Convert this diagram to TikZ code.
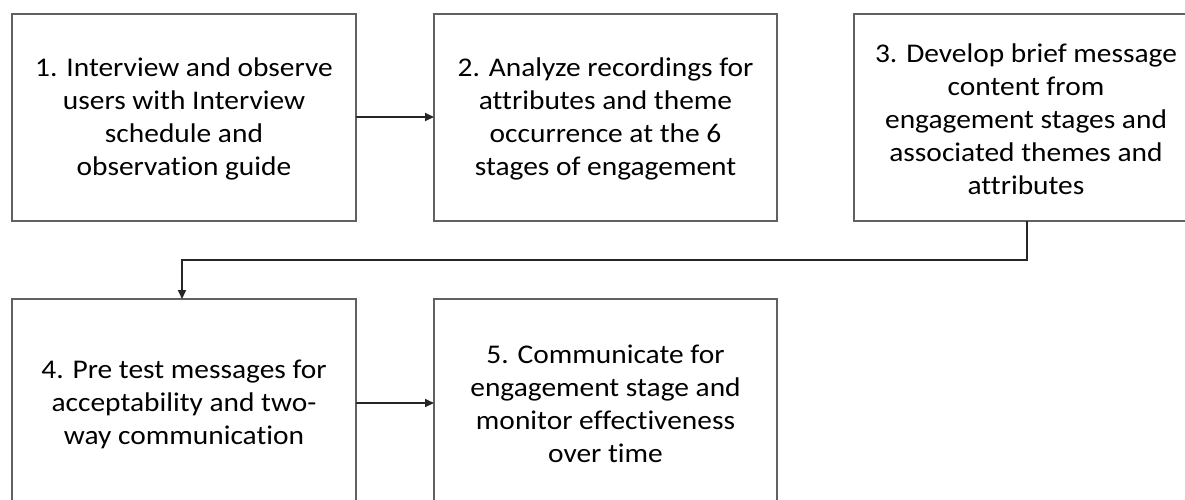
\documentclass[tikz,border=0pt]{standalone}
\usepackage{fontspec}
\setmainfont{Carlito}[FakeStretch=1.09,Ligatures=NoCommon]
\usetikzlibrary{arrows.meta}
\begin{document}
\begin{tikzpicture}[x=1pt,y=-1pt,
  stepbox/.style={draw=black!62,line width=2pt,fill=white,inner sep=0pt,
    font=\fontsize{27pt}{33pt}\selectfont,align=center},
  conn/.style={draw=black!85,line width=1.7pt,-{Triangle[length=9pt,width=8pt]}}]
\useasboundingbox (0,0) rectangle (1185,500);
\clip (0,0) rectangle (1185,500);
% boxes
\draw[stepbox] (12,14) rectangle (356,221);
\draw[stepbox] (434,14) rectangle (777,221);
\draw[stepbox] (854,14) rectangle (1198,221);
\draw[stepbox] (12,299) rectangle (356,506);
\draw[stepbox] (434,299) rectangle (777,506);
\node[stepbox,draw=none,fill=none,minimum width=344pt,minimum height=207pt] (b1) at (184,119)
  {1. Interview and observe\\users with Interview\\schedule and\\observation guide};
\node[stepbox,draw=none,fill=none,minimum width=343pt,minimum height=207pt] (b2) at (605.5,119)
  {2. Analyze recordings for\\attributes and theme\\occurrence at the 6\\stages of engagement};
\node[stepbox,draw=none,fill=none,minimum width=344pt,minimum height=207pt] (b3) at (1026,119)
  {3. Develop brief message\\content from\\engagement stages and\\associated themes and\\attributes};
\node[stepbox,draw=none,fill=none,minimum width=344pt,minimum height=207pt] (b4) at (184,404)
  {4. Pre test messages for\\acceptability and two-\\way communication};
\node[stepbox,draw=none,fill=none,minimum width=343pt,minimum height=207pt] (b5) at (605.5,404)
  {5. Communicate for\\engagement stage and\\monitor effectiveness\\over time};
% connectors
\coordinate (a1s) at (356,117);
\coordinate (a1e) at (434,117);
\coordinate (a2s) at (356,403);
\coordinate (a2e) at (434,403);
\draw[conn] (a1s) -- (a1e);
\draw[conn] (a2s) -- (a2e);
\coordinate (t0) at (1027,221);
\coordinate (t1) at (1027,260);
\coordinate (t2) at (182,260);
\coordinate (t3) at (182,299);
\draw[conn] (t0) -- (t1) -- (t2) -- (t3);
\end{tikzpicture}
\end{document}
